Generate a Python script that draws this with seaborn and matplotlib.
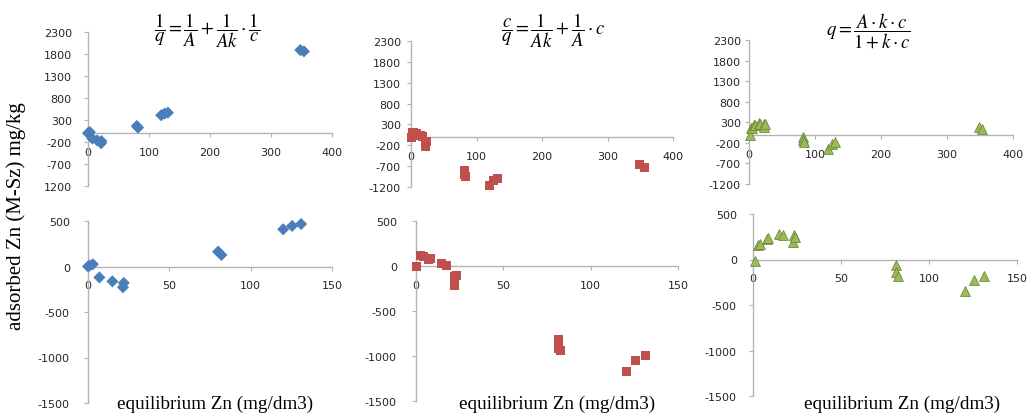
import matplotlib
matplotlib.use("Agg")
import matplotlib.pyplot as plt
import numpy as np
import pandas as pd
import seaborn as sns

# ---------------- data ----------------
# column 1: blue diamonds
c_blue = [0, 1, 3, 7, 15, 22, 21.5, 80, 82, 120, 125.5, 131, 348, 354]
q_blue = [0, 10, 25, -120, -163, -181, -228, 163, 127, 409, 446, 467, 1890, 1860]
# column 2: red squares
c_red = [0.4, 2.3, 4.2, 7, 8.4, 14.7, 17.2, 22.3, 23.3, 21.9, 81.4, 81.4, 82.7,
         120.4, 125.8, 131.3, 349, 356]
q_red = [-11, 117, 110, 73, 88, 26, 7, -120, -102, -219, -814, -912, -941,
         -1168, -1051, -989, -668, -724]
# column 3: green triangles
c_green = [1, 2.8, 3.8, 8, 8.5, 14.8, 17.1, 22.8, 23.2, 23.7, 81.3, 81.3, 82.6,
           120.2, 125.7, 131, 349, 353]
q_green = [-11, 160, 172, 226, 233, 281, 270, 190, 270, 252, -58, -139, -182,
           -347, -230, -182, 175, 134]

equations = [r'$\dfrac{1}{q}=\dfrac{1}{A}+\dfrac{1}{Ak}\cdot\dfrac{1}{c}$',
             r'$\dfrac{c}{q}=\dfrac{1}{Ak}+\dfrac{1}{A}\cdot c$',
             r'$q=\dfrac{A\cdot k\cdot c}{1+k\cdot c}$']
top_yticks = [-1200, -700, -200, 300, 800, 1300, 1800, 2300]
top_xticks = [0, 100, 200, 300, 400]
bot_yticks = [-1500, -1000, -500, 0, 500]
bot_xticks = [0, 50, 100, 150]
xlabel = "equilibrium Zn (mg/dm3)"
ylabel = "adsorbed Zn (M-Sz) mg/kg"

# ---------------- styling ----------------
sns.set_theme(style="white")
plt.rcParams['font.family'] = ['DejaVu Sans']
plt.rcParams['mathtext.fontset'] = 'stix'
plt.rcParams['axes.unicode_minus'] = False

W, H = 1029, 414
fig = plt.figure(figsize=(W / 100, H / 100), dpi=100)
fig.patch.set_facecolor('white')

AXC = '#b3b3b3'
TXT = '#262626'


def px_axes(x0, x1, ytop, ybot):
    return fig.add_axes([x0 / W, 1 - ybot / H, (x1 - x0) / W, (ybot - ytop) / H])


series = [
    (c_blue, q_blue, '#4a7ebb', 'D', 38, 'none'),
    (c_red, q_red, '#c0504d', 's', 42, 'none'),
    (c_green, q_green, '#9bbb59', '^', 50, '#6f8a3c'),
]

top_boxes = [(88, 332, 33, 187), (411, 673, 42, 188), (749, 1013, 41, 185)]
bot_boxes = [(88, 332, 222, 404), (416, 678, 222, 402), (753, 1017, 215, 397)]
top_ypads = [12, 6, 4]
bot_ypads = [14, 15, 12]


def style_axes(ax, xlim, ylim, xt, yt, ypad_px, ylabels=None):
    ax.set_xlim(*xlim)
    ax.set_ylim(*ylim)
    ax.set_facecolor('none')
    for s in ['top', 'right']:
        ax.spines[s].set_visible(False)
    ax.spines['left'].set_position(('data', 0))
    ax.spines['bottom'].set_position(('data', 0))
    for s in ['left', 'bottom']:
        ax.spines[s].set_color(AXC)
        ax.spines[s].set_linewidth(1.0)
    ax.set_xticks(xt)
    ax.set_yticks(yt)
    if ylabels is not None:
        ax.set_yticklabels(ylabels)
    ax.tick_params(axis='x', direction='out', length=3, width=0.8, color=AXC,
                   labelsize=8, labelcolor=TXT, pad=7, bottom=True)
    ax.tick_params(axis='y', direction='out', length=3, width=0.8, color=AXC,
                   labelsize=8, labelcolor=TXT, pad=ypad_px * 0.72, left=True)
    ax.set_xlabel('')
    ax.set_ylabel('')
    ax.grid(False)


for i, (cx, qy, col, mk, sz, ec) in enumerate(series):
    df = pd.DataFrame({'c': cx, 'q': qy})
    # top row: full range
    ax = px_axes(*top_boxes[i])
    sns.scatterplot(data=df, x='c', y='q', ax=ax, color=col, marker=mk, s=sz,
                    edgecolor=ec, linewidth=0.6, clip_on=False, zorder=3)
    ylabs = None
    if i == 0:
        ylabs = [str(v) for v in top_yticks]
        ylabs[0] = '1200'
    style_axes(ax, (0, 400), (-1200, 2300), top_xticks, top_yticks, top_ypads[i], ylabs)

    # bottom row: zoomed range
    axb = px_axes(*bot_boxes[i])
    dfb = df[df['c'] <= 150]
    sns.scatterplot(data=dfb, x='c', y='q', ax=axb, color=col, marker=mk, s=sz,
                    edgecolor=ec, linewidth=0.6, clip_on=False, zorder=3)
    style_axes(axb, (0, 150), (-1500, 500), bot_xticks, bot_yticks, bot_ypads[i])

# equations
eq_pos = [(207, 31), (553, 31), (868, 31)]
for (x, y), eq in zip(eq_pos, equations):
    fig.text(x / W, 1 - y / H, eq, ha='center', va='center', fontsize=13.5, color='black')

# x labels
for xc in [215, 557, 902]:
    fig.text(xc / W, 1 - 404 / H, xlabel, ha='center', va='center',
             fontsize=13.8, family='Liberation Serif', color='black')

# y label
fig.text(16 / W, 1 - 216 / H, ylabel, ha='center', va='center', rotation=90,
         fontsize=15, family='Liberation Serif', color='black')

fig.savefig('out.png', dpi=100, facecolor='white')
